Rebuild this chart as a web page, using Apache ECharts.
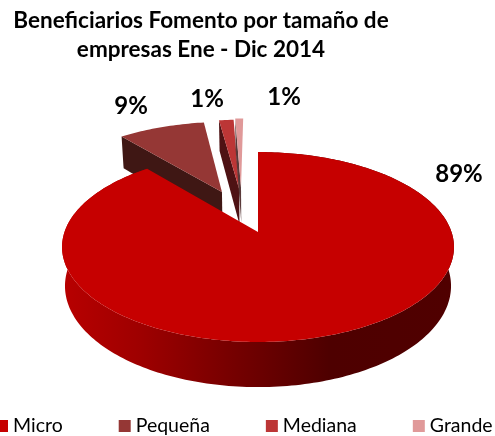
<!DOCTYPE html>
<html>
<head>
<meta charset="utf-8">
<script src="https://cdn.jsdelivr.net/npm/echarts@6/dist/echarts.min.js"></script>
<style>html,body{margin:0;padding:0;background:#fff}#c{width:495px;height:436px}</style>
</head>
<body>
<div id="c"></div>
<script>
const categories = ['Micro', 'Pequeña', 'Mediana', 'Grande'];
const values = [88.9, 8.8, 1.49, 0.81];
const topColors = ['#c60000', '#953735', '#bc3636', '#e09999'];
const wallColors = ['#4e0000', '#3f1714', '#4e1214', '#5a3a3a'];

// Perspective view of the pie disc
const view = {cx: 258, cy: 232, A: 193.5, B: 92.6, k: 0.158, H: 38, s: 0.985};
const explode = [[0, 0], [-0.2, -0.465], [-0.105, -0.5], [-0.095, -0.52]];
const labelAt = [[459, 174], [131, 106], [207, 99], [284, 97]];

const total = values.reduce((a, b) => a + b, 0);
function project(u, v, low) {
  const d = 1 - view.k * v;
  if (!low) return [view.cx + view.A * u / d, view.cy + view.B * v / d];
  return [view.cx + view.s * view.A * u / d, view.cy + (view.B * v + view.H) / d];
}
function renderSlice(index) {
  const before = values.slice(0, index).reduce((a, b) => a + b, 0);
  const a0 = before / total * Math.PI * 2;
  const a1 = (before + values[index]) / total * Math.PI * 2;
  const [ox, oy] = explode[index];
  const arc = (low) => {
    const pts = [];
    const n = Math.max(4, Math.ceil((a1 - a0) / 0.02));
    for (let i = 0; i <= n; i++) {
      const a = a0 + (a1 - a0) * i / n;
      pts.push(project(ox + Math.sin(a), oy - Math.cos(a), low));
    }
    return pts;
  };
  const top = arc(false), low = arc(true);
  const apexTop = project(ox, oy, false), apexLow = project(ox, oy, true);
  const children = [];
  if (index === 0) {
    children.push({
      type: 'polygon',
      shape: {points: top.concat(low.slice().reverse())},
      style: {fill: {type: 'linear', global: true, x: 62, y: 0, x2: 455, y2: 0, colorStops: [
        {offset: 0, color: '#b80000'}, {offset: 0.2, color: '#9e0000'},
        {offset: 0.42, color: '#780000'}, {offset: 0.68, color: '#4e0000'},
        {offset: 1, color: '#500000'}]}}
    });
  } else {
    // radial cut face seen on the left of each exploded slice
    children.push({
      type: 'polygon',
      shape: {points: [apexTop, top[0], low[0], apexLow]},
      style: {fill: wallColors[index]}
    });
  }
  children.push({
    type: 'polygon',
    shape: {points: [apexTop].concat(top)},
    style: {fill: topColors[index]}
  });
  children.push({
    type: 'text',
    style: {
      x: labelAt[index][0], y: labelAt[index][1],
      text: Math.round(values[index]) + '%',
      font: 'bold 24px Lato', fill: '#000', align: 'center', verticalAlign: 'middle'
    }
  });
  return {type: 'group', children};
}

const chart = echarts.init(document.getElementById('c'), null, {renderer: 'canvas'});
chart.setOption({
  animation: false,
  backgroundColor: '#fff',
  title: {
    text: 'Beneficiarios Fomento por tamaño de\nempresas Ene - Dic 2014',
    left: 196, top: 1, textAlign: 'center',
    textStyle: {fontFamily: 'Lato', fontWeight: 'bold', fontSize: 22.5, lineHeight: 29, color: '#000'}
  },
  legend: {
    orient: 'horizontal', left: -4, top: 416, width: 560, padding: 0,
    itemWidth: 12, itemHeight: 12, itemGap: 56, icon: 'rect',
    data: categories, selectedMode: false,
    textStyle: {fontFamily: 'Lato', fontSize: 19.5, color: '#000', padding: [0, 0, 0, 0]}
  },
  series: categories.map((name, i) => ({
    type: 'custom',
    name,
    coordinateSystem: 'none',
    silent: true,
    z: i === 0 ? 5 : 2,
    itemStyle: {color: topColors[i]},
    data: [values[i]],
    renderItem: () => renderSlice(i)
  }))
});
</script>
</body>
</html>
